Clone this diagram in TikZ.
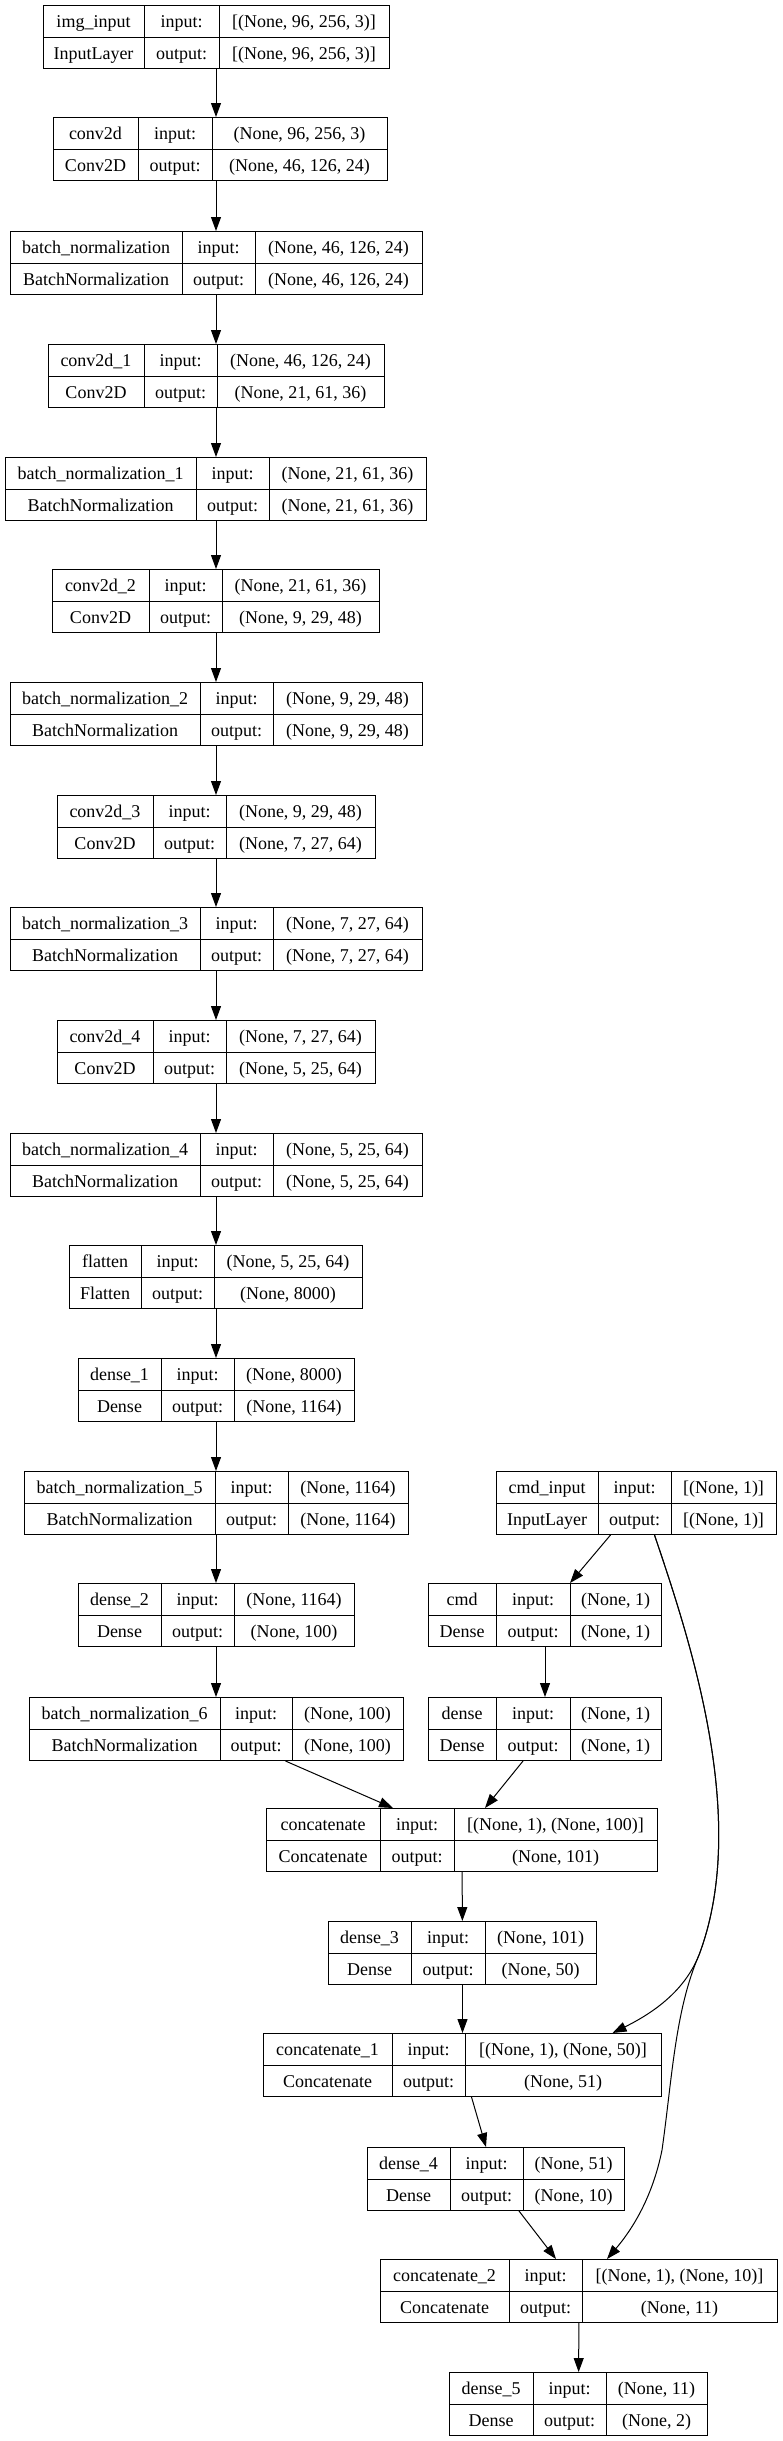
\documentclass[tikz,border=0pt]{standalone}
\usepackage{fontspec}
\setmainfont{Liberation Serif}
\usetikzlibrary{arrows.meta,calc}

\tikzset{
  box/.style={draw, line width=1pt, inner sep=0pt, minimum height=63pt},
  cell/.style={inner sep=0pt, anchor=base, font=\fontsize{18}{20}\selectfont}
}

\def\getdims#1,#2,#3,#4,#5\relax{\def\bxl{#1}\def\bxt{#2}\def\bxa{#3}\def\bxb{#4}\def\bxr{#5}}

% #1 id, #2 left,top,div1,div2,right, #3 name, #4 class, #5 input, #6 output
\newcommand{\layer}[6]{%
  \getdims#2\relax
  \node[box, minimum width={(\bxr-\bxl)*1pt}, anchor=north west] (#1) at (\bxl,\bxt) {};
  \draw[-, line width=1pt] (#1.west) -- (#1.east) (\bxa,\bxt) -- ++(0,63) (\bxb,\bxt) -- ++(0,63);
  \node[cell] (#1-nm) at ({(\bxl+\bxa)/2},{\bxt+22.5}) {#3};
  \node[cell] (#1-cl) at ({(\bxl+\bxa)/2},{\bxt+54.5}) {#4};
  \node[cell] (#1-ki) at ({(\bxa+\bxb)/2},{\bxt+22.5}) {input:};
  \node[cell] (#1-ko) at ({(\bxa+\bxb)/2},{\bxt+54.5}) {output:};
  \node[cell] (#1-vi) at ({(\bxb+\bxr)/2},{\bxt+22.5}) {#5};
  \node[cell] (#1-vo) at ({(\bxb+\bxr)/2},{\bxt+54.5}) {#6};
}

\begin{document}
\begin{tikzpicture}[->, >={Triangle[length=14pt, width=10pt]}, x=1pt, y=-1pt, line width=1pt]
  \useasboundingbox (0,0) rectangle (782,2441);
  \coordinate (axis) at (216,0);

  \layer{img}{43,5,144,219,389}{img\_input}{InputLayer}{[(None, 96, 256, 3)]}{[(None, 96, 256, 3)]}
  \layer{cv0}{53,117,138,212,387}{conv2d}{Conv2D}{(None, 96, 256, 3)}{(None, 46, 126, 24)}
  \layer{bn0}{10,231,182,255,422}{batch\_normalization}{BatchNormalization}{(None, 46, 126, 24)}{(None, 46, 126, 24)}
  \layer{cv1}{48,344,144,217,384}{conv2d\_1}{Conv2D}{(None, 46, 126, 24)}{(None, 21, 61, 36)}
  \layer{bn1}{5,457,196,269,426}{batch\_normalization\_1}{BatchNormalization}{(None, 21, 61, 36)}{(None, 21, 61, 36)}
  \layer{cv2}{52,569,149,222,379}{conv2d\_2}{Conv2D}{(None, 21, 61, 36)}{(None, 9, 29, 48)}
  \layer{bn2}{10,682,200,273,422}{batch\_normalization\_2}{BatchNormalization}{(None, 9, 29, 48)}{(None, 9, 29, 48)}
  \layer{cv3}{57,795,153,226,375}{conv2d\_3}{Conv2D}{(None, 9, 29, 48)}{(None, 7, 27, 64)}
  \layer{bn3}{10,907,200,273,422}{batch\_normalization\_3}{BatchNormalization}{(None, 7, 27, 64)}{(None, 7, 27, 64)}
  \layer{cv4}{57,1020,153,226,375}{conv2d\_4}{Conv2D}{(None, 7, 27, 64)}{(None, 5, 25, 64)}
  \layer{bn4}{10,1133,200,273,422}{batch\_normalization\_4}{BatchNormalization}{(None, 5, 25, 64)}{(None, 5, 25, 64)}
  \layer{flat}{69,1245,141,214,362}{flatten}{Flatten}{(None, 5, 25, 64)}{(None, 8000)}
  \layer{ds1}{78,1358,161,234,354}{dense\_1}{Dense}{(None, 8000)}{(None, 1164)}
  \layer{bn5}{24,1471,215,288,408}{batch\_normalization\_5}{BatchNormalization}{(None, 1164)}{(None, 1164)}
  \layer{cin}{496,1471,598,671,776}{cmd\_input}{InputLayer}{[(None, 1)]}{[(None, 1)]}
  \layer{ds2}{78,1583,161,234,354}{dense\_2}{Dense}{(None, 1164)}{(None, 100)}
  \layer{cmd}{428,1583,496,570,661}{cmd}{Dense}{(None, 1)}{(None, 1)}
  \layer{bn6}{29,1697,220,292,403}{batch\_normalization\_6}{BatchNormalization}{(None, 100)}{(None, 100)}
  \layer{dns}{428,1697,496,570,661}{dense}{Dense}{(None, 1)}{(None, 1)}
  \layer{cc0}{266,1808,380,454,657}{concatenate}{Concatenate}{[(None, 1), (None, 100)]}{(None, 101)}
  \layer{ds3}{328,1921,411,485,596}{dense\_3}{Dense}{(None, 101)}{(None, 50)}
  \layer{cc1}{263,2033,392,465,661}{concatenate\_1}{Concatenate}{[(None, 1), (None, 50)]}{(None, 51)}
  \layer{ds4}{367,2147,450,523,624}{dense\_4}{Dense}{(None, 51)}{(None, 10)}
  \layer{cc2}{380,2259,509,582,777}{concatenate\_2}{Concatenate}{[(None, 1), (None, 10)]}{(None, 11)}
  \layer{ds5}{449,2372,533,606,707}{dense\_5}{Dense}{(None, 11)}{(None, 2)}

  \foreach \a/\b in {img/cv0, cv0/bn0, bn0/cv1, cv1/bn1, bn1/cv2, cv2/bn2, bn2/cv3, cv3/bn3,
                     bn3/cv4, cv4/bn4, bn4/flat, flat/ds1, ds1/bn5, bn5/ds2, ds2/bn6}
    \draw (\a.south -| axis) -- (\b.north -| axis);

  \draw ($(cin.south)+(-26,0)$) -- ($(cmd.north)+(25,0)$);
  \draw (cmd) -- (dns);
  \draw ($(bn6.south)+(69,0)$) -- ($(cc0.north)+(-69,0)$);
  \draw ($(dns.south)+(-22,0)$) -- ($(cc0.north)+(23,0)$);
  \draw (cc0) -- (ds3);
  \draw (ds3) -- (cc1);
  \draw ($(cc1.south)+(9,0)$) -- ($(ds4.north)+(-10,0)$);
  \draw ($(ds4.south)+(23,0)$) -- ($(cc2.north)+(-23,0)$);
  \draw (cc2) -- (ds5);

  \draw ($(cin.south)+(18,0)$) .. controls (690,1640) and (750,1820) .. (699,1955)
    .. controls (685,1990) and (655,2012) .. ($(cc1.north)+(150,0)$);
  \draw ($(cin.south)+(18,0)$) .. controls (690,1640) and (750,1820) .. (699,1955)
    .. controls (675,2010) and (672,2080) .. (662,2150)
    .. controls (652,2200) and (630,2232) .. ($(cc2.north)+(28,0)$);
\end{tikzpicture}
\end{document}
